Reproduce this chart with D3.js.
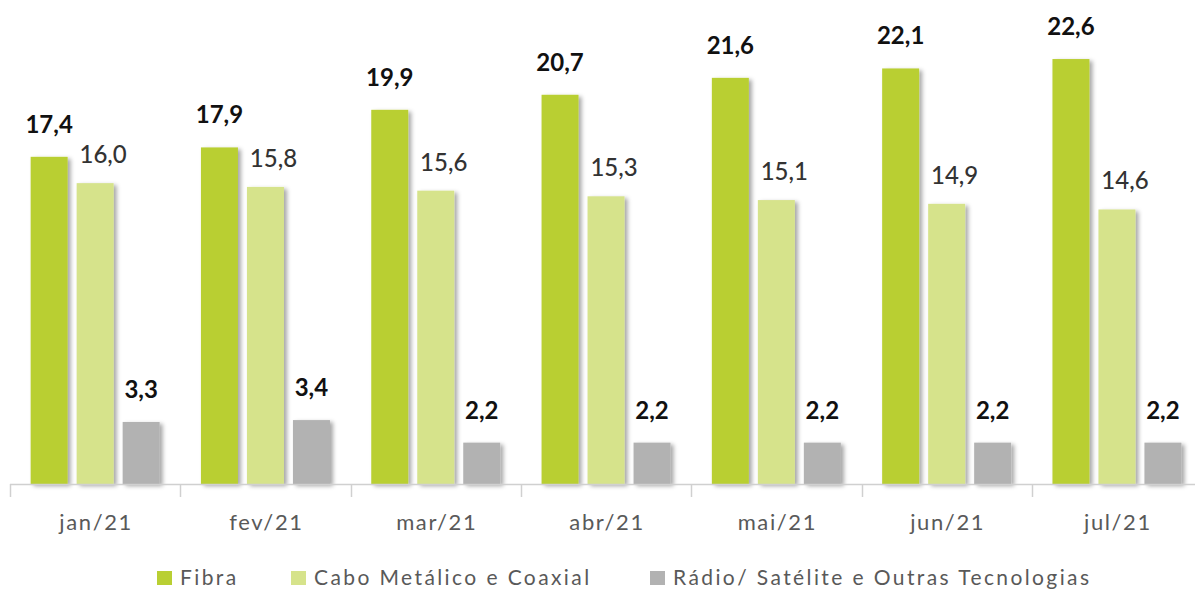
<!DOCTYPE html>
<html><head><meta charset="utf-8">
<script src="https://cdn.jsdelivr.net/npm/d3@7"></script>
<style>body{margin:0;background:#fff}svg{display:block}</style>
</head><body>
<svg id="c" width="1195" height="591"></svg>
<script>
const categories = ["jan/21","fev/21","mar/21","abr/21","mai/21","jun/21","jul/21"];
const seriesNames = ["Fibra","Cabo Metálico e Coaxial","Rádio/ Satélite e Outras Tecnologias"];
const fibra = [17.4,17.9,19.9,20.7,21.6,22.1,22.6];
const cabo = [16.0,15.8,15.6,15.3,15.1,14.9,14.6];
const radio = [3.3,3.4,2.2,2.2,2.2,2.2,2.2];
const colors = ["#b9cf33","#d6e38b","#b2b2b2"];
const seriesValues = [fibra, cabo, radio];

const svg = d3.select("#c");
const W = 1195, H = 591;
const baseY = 484;
const FONT = "Lato, 'Open Sans', sans-serif";
const defs = svg.append("defs");
const f = defs.append("filter").attr("id","sh").attr("x","-20%").attr("y","-20%").attr("width","150%").attr("height","150%");
f.append("feDropShadow").attr("dx",3).attr("dy",2).attr("stdDeviation",2).attr("flood-color","#000").attr("flood-opacity",0.35);

const x = d3.scaleBand().domain(categories).range([10, 10 + 170.3*7]).paddingInner(0).paddingOuter(0);
const xs = d3.scaleBand().domain(seriesNames).range([0, x.bandwidth()]).paddingInner(9/46).paddingOuter(0.449);
const y = d3.scaleLinear().domain([0, 25.74]).range([baseY, 0]);

const fmt = v => d3.format(".1f")(v).replace(".", ",");

// bars
const g = svg.append("g");
seriesNames.forEach((s, si) => {
  g.selectAll(null).data(categories.map((c,i)=>({c, v: seriesValues[si][i]})))
    .enter().append("rect")
    .attr("x", d => x(d.c) + xs(s))
    .attr("y", d => y(d.v))
    .attr("width", xs.bandwidth())
    .attr("height", d => baseY - y(d.v))
    .attr("fill", colors[si])
    .attr("filter","url(#sh)");
});

// axis
svg.append("line").attr("x1",10).attr("x2",W).attr("y1",baseY+0.5).attr("y2",baseY+0.5).attr("stroke","#d0d0d0").attr("stroke-width",1.5);
const tickXs = categories.map(c => x(c));
svg.selectAll(null).data(tickXs).enter().append("line")
  .attr("x1", d => Math.round(d)+0.5).attr("x2", d => Math.round(d)+0.5)
  .attr("y1", baseY).attr("y2", baseY+13).attr("stroke","#d0d0d0").attr("stroke-width",1.5);
const ax = svg.append("g").attr("transform",`translate(1,${baseY})`)
  .call(d3.axisBottom(x).tickSize(0).tickPadding(0));
ax.select(".domain").remove();
ax.selectAll("text").attr("y", 46).attr("dy", null).attr("fill","#595959")
  .style("font-family",FONT).style("font-size","22px").style("letter-spacing","1.6px");

// labels
seriesNames.forEach((s, si) => {
  svg.selectAll(null).data(categories.map((c,i)=>({c, v: seriesValues[si][i]})))
    .enter().append("text")
    .attr("x", d => x(d.c) + xs(s) + xs.bandwidth()/2 + (si===1 ? 8 : 0))
    .attr("y", d => y(d.v) - (si===1 ? 20 : 24))
    .attr("text-anchor","middle")
    .attr("fill", si===1 ? "#333" : "#111")
    .style("font-family",FONT)
    .style("font-size","24px")
    .style("font-weight", si===1 ? "500" : "bold")
    .text(d => fmt(d.v));
});

// legend
const legendX = [157, 291, 650];
const lg = svg.append("g");
seriesNames.forEach((s, si) => {
  lg.append("rect").attr("x", legendX[si]).attr("y", 571).attr("width", 15).attr("height", 14).attr("fill", colors[si]);
  lg.append("text").attr("x", legendX[si] + 23).attr("y", 585)
    .attr("fill","#595959")
    .style("font-family",FONT).style("font-size","21px").style("letter-spacing","2.4px")
    .text(s);
});
</script>
</body></html>
